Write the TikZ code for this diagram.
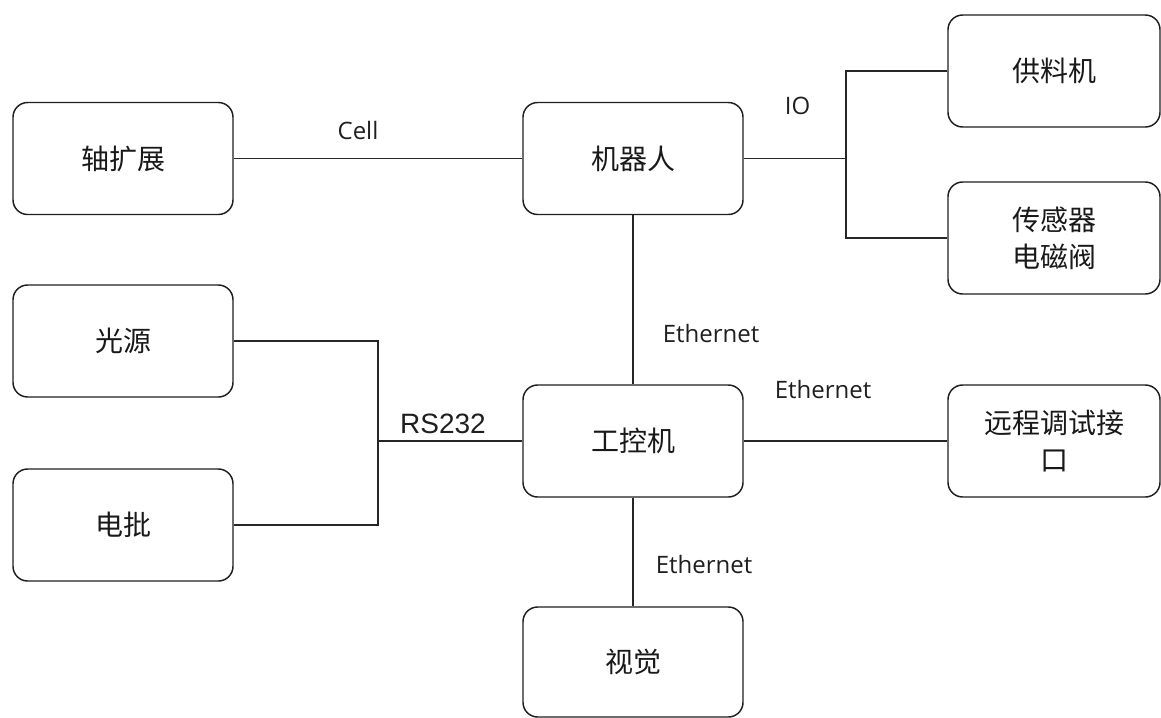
\documentclass[tikz,border=0pt]{standalone}
\usepackage{fontspec}
\setmainfont{Open Sans}
\newfontfamily\cjkfont{Noto Sans CJK SC}
\newfontfamily\arialfont{Liberation Sans}
\begin{document}
\begin{tikzpicture}[x=0.75pt,y=-0.75pt,
  box/.style={draw=black!88, line width=1.1pt, rounded corners=11pt,
    minimum width=165pt, minimum height=84pt, inner sep=0pt,
    font=\cjkfont\fontsize{21}{28}\selectfont, align=center, text=black!90},
  rbox/.style={box, minimum width=159pt},
  conn/.style={draw=black!85, line width=1.1pt},
  lbl/.style={anchor=base, inner sep=0pt, text=black!88,
    font=\fontsize{18}{22}\selectfont}]
\useasboundingbox (0,0) rectangle (1161,718);

% nodes
\node[box] (zhou) at (123,158.5) {轴扩展};
\node[box] (robot) at (633,158.5) {机器人};
\node[rbox] (feeder) at (1054,71) {供料机};
\node[rbox] (sensor) at (1054,238) {传感器\\电磁阀};
\node[box] (light) at (123,341) {光源};
\node[box] (driver) at (123,525) {电批};
\node[box] (ipc) at (633,441) {工控机};
\node[rbox] (remote) at (1054,441) {远程调试接\\口};
\node[box, minimum height=82.5pt] (vision) at (633,662) {视觉};

% junctions
\coordinate (io) at (846,158.5);
\coordinate (rs) at (378,441);

% connectors
\draw[conn] (zhou.east) -- (robot.west);
\draw[conn] (robot.east) -- (io);
\draw[conn] (io) |- (feeder.west);
\draw[conn] (io) |- (sensor.west);
\draw[conn] (robot.south) -- (ipc.north);
\draw[conn] (ipc.east) -- (remote.west);
\draw[conn] (ipc.south) -- (vision.north);
\draw[conn] (light.east) -| (rs);
\draw[conn] (driver.east) -| (rs);
\draw[conn] (rs) -- (ipc.west);

% labels
\node[lbl] (lcell) at (358,139) {Cell};
\node[lbl] (lio) at (797.5,114) {IO};
\node[lbl] (leth1) at (711,342) {Ethernet};
\node[lbl] (leth2) at (823,398) {Ethernet};
\node[lbl] (leth3) at (704,573) {Ethernet};
\node[lbl, font=\arialfont\fontsize{21}{24}\selectfont] (lrs) at (443,433) {RS232};
\end{tikzpicture}
\end{document}
